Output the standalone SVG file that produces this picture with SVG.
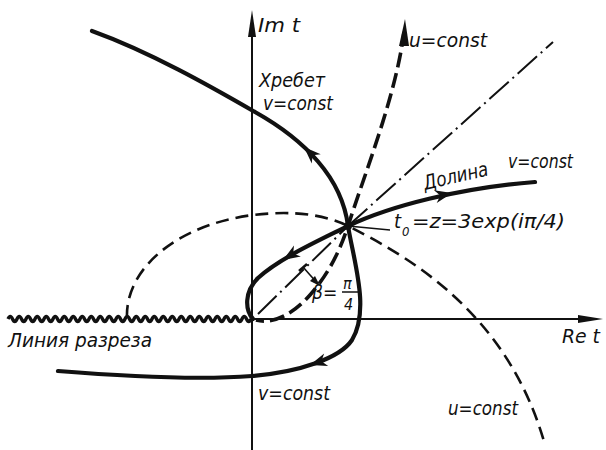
<svg xmlns="http://www.w3.org/2000/svg" xmlns:xlink="http://www.w3.org/1999/xlink" width="606" height="450" viewBox="0 0 606 450">
<style>
.t{font-family:"DejaVu Sans Condensed","DejaVu Sans",sans-serif;font-style:italic;font-size:20px;fill:#111}
.axis{stroke:#111;stroke-width:2;fill:none}
.thick{stroke:#111;stroke-width:4.2;fill:none;stroke-linecap:round;stroke-linejoin:round}
.dash{stroke:#111;stroke-width:2.6;fill:none;stroke-dasharray:13 7}
.dash2{stroke:#111;stroke-width:3.6;fill:none;stroke-dasharray:15 6}
.dd{stroke:#111;stroke-width:2;fill:none;stroke-dasharray:26 5 2 5}
.ah{fill:#111}
</style>
<defs>
<path id="ah" d="M0,0 L-17,-6.5 L-12,0 L-17,6.5 Z"/>
</defs>
<rect width="606" height="450" fill="#fff"/>
<g id="axes">
<line class="axis" x1="252" y1="30" x2="252" y2="450"/>
<polygon class="ah" points="252,10 248,37 256,37"/>
<line class="axis" x1="252" y1="319" x2="585" y2="319"/>
<polygon class="ah" points="603,319 578,315 578,323"/>
</g>
<g id="cut">
<path d="M8,319 q2.25,-5 4.5,0 t4.5,0 t4.5,0 t4.5,0 t4.5,0 t4.5,0 t4.5,0 t4.5,0 t4.5,0 t4.5,0 t4.5,0 t4.5,0 t4.5,0 t4.5,0 t4.5,0 t4.5,0 t4.5,0 t4.5,0 t4.5,0 t4.5,0 t4.5,0 t4.5,0 t4.5,0 t4.5,0 t4.5,0 t4.5,0 t4.5,0 t4.5,0 t4.5,0 t4.5,0 t4.5,0 t4.5,0 t4.5,0 t4.5,0 t4.5,0 t4.5,0 t4.5,0 t4.5,0 t4.5,0 t4.5,0 t4.5,0 t4.5,0 t4.5,0 t4.5,0 t4.5,0 t4.5,0 t4.5,0 t4.5,0 t4.5,0 t4.5,0 t4.5,0 t4.5,0 t4.5,0 t4.5,0" stroke="#111" stroke-width="3.4" fill="none" stroke-linejoin="round"/>
</g>
<g id="connectors">
<line class="dd" x1="258" y1="314" x2="348" y2="226"/>
<line class="dd" x1="348" y1="226" x2="553" y2="42"/>
<path class="dash" d="M127,318 C125,270 175,225 253,215 C295,210 325,215 348,226 C420,262 510,320 545,445"/>
<path class="dash2" d="M404,32 C396,95 366,170 348,226 C340,250 330,272 310,295 C295,312 275,325 256,320"/>
<polygon class="ah" points="405,19 399,46 409,46"/>
<path class="thick" d="M92,31 C150,52 210,86 255,112 C305,140 342,178 348,226 C354,262 370,310 352,340 C340,358 300,372 252,376 C200,380 120,376 58,371"/>
<path class="thick" d="M253,319 C245,310 244,292 258,278 C280,258 320,240 348,226 C390,206 460,188 535,182"/>
<use xlink:href="#ah" class="ah" transform="translate(304,147) rotate(224)"/>
<use xlink:href="#ah" class="ah" transform="translate(310,365) rotate(162)"/>
<use xlink:href="#ah" class="ah" transform="translate(283,260) rotate(148)"/>
<use xlink:href="#ah" class="ah" transform="translate(452,193) rotate(-12)"/>
<circle cx="348" cy="226" r="4" fill="#111"/>
<line x1="348" y1="226" x2="390" y2="230" stroke="#111" stroke-width="1.3"/>
<line x1="303" y1="267" x2="318" y2="284" stroke="#111" stroke-width="1.6"/>
<line x1="299" y1="271" x2="307" y2="264" stroke="#111" stroke-width="2.5"/>
<polygon class="ah" points="320,286 310,281 315,276"/>
</g>
<g id="labels">
<text class="t" x="258" y="32" textLength="42" lengthAdjust="spacingAndGlyphs">Im t</text>
<text class="t" x="259" y="87" textLength="66" lengthAdjust="spacingAndGlyphs">Хребет</text>
<text class="t" x="263" y="110" textLength="70" lengthAdjust="spacingAndGlyphs">v=const</text>
<text class="t" x="409" y="47" textLength="78" lengthAdjust="spacingAndGlyphs">u=const</text>
<text class="t" x="0" y="0" textLength="66" lengthAdjust="spacingAndGlyphs" transform="translate(425,190) rotate(-13)">Долина</text>
<text class="t" x="508" y="168" textLength="65" lengthAdjust="spacingAndGlyphs">v=const</text>
<text class="t" x="394" y="228">t</text>
<text class="t" x="402" y="236" style="font-size:13px">0</text>
<text class="t" x="412" y="228" textLength="153" lengthAdjust="spacingAndGlyphs">=z=3exp(iπ/4)</text>
<text class="t" x="312" y="299" style="font-size:19px">β=</text>
<text class="t" x="343" y="289" style="font-size:16px">π</text>
<line x1="342" y1="292" x2="358" y2="292" stroke="#111" stroke-width="1.5"/>
<text class="t" x="344" y="310" style="font-size:16px">4</text>
<text class="t" x="8" y="347" textLength="144" lengthAdjust="spacingAndGlyphs">Линия разреза</text>
<text class="t" x="258" y="400" textLength="72" lengthAdjust="spacingAndGlyphs">v=const</text>
<text class="t" x="448" y="415" textLength="70" lengthAdjust="spacingAndGlyphs">u=const</text>
<text class="t" x="562" y="343" textLength="38" lengthAdjust="spacingAndGlyphs">Re t</text>
</g>
</svg>
